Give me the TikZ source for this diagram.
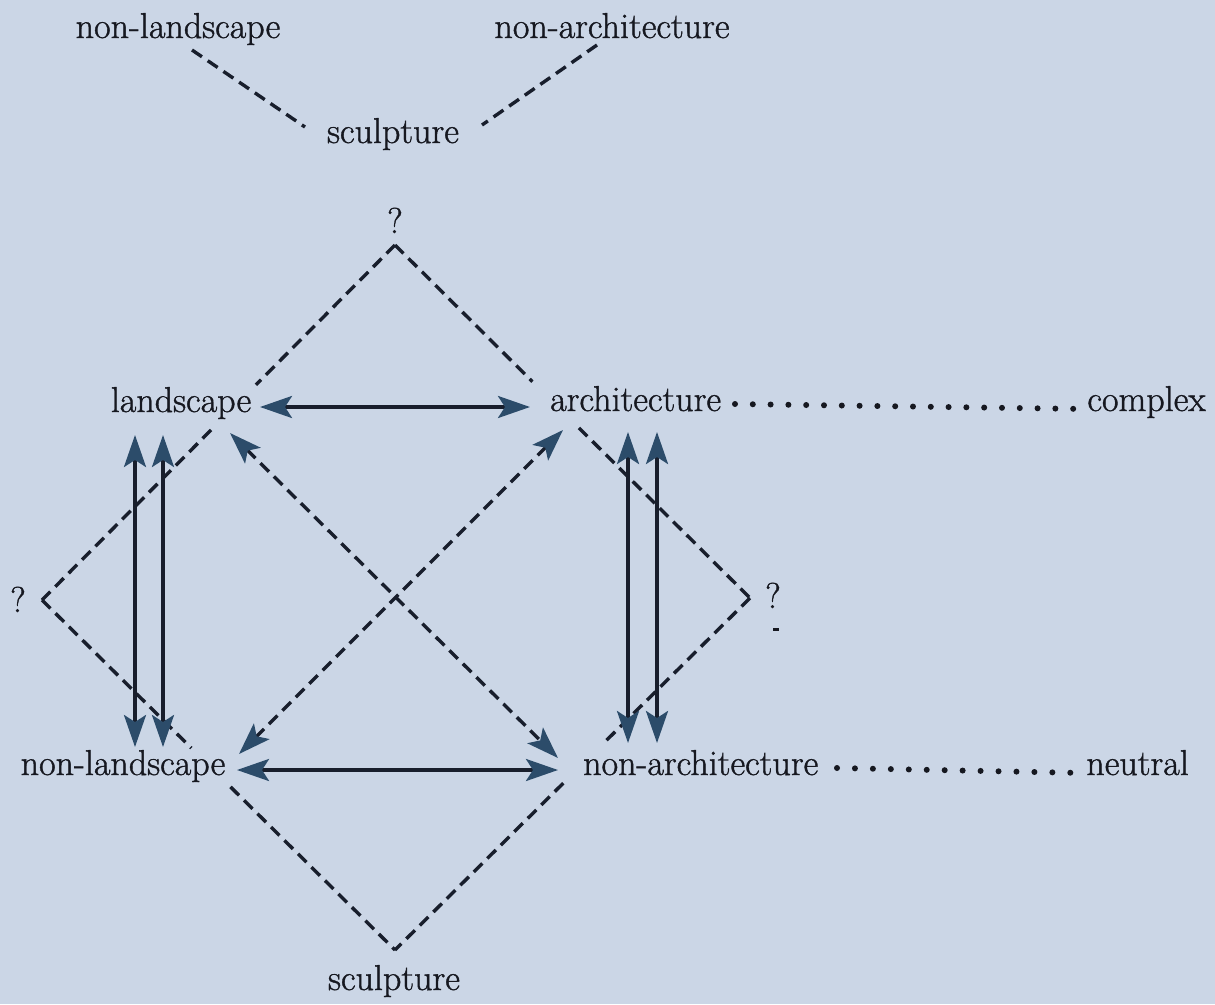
\documentclass[tikz,border=0pt]{standalone}
\usepackage{fontspec}
\setmainfont{Latin Modern Roman}[FakeBold=1.1]
\usetikzlibrary{arrows.meta,calc}
\definecolor{bgc}{RGB}{203,214,230}
\definecolor{inkc}{RGB}{22,24,32}
\definecolor{linec}{RGB}{24,30,44}
\definecolor{tipc}{RGB}{44,76,106}
\begin{document}
\begin{tikzpicture}[x=1pt,y=-1pt,
  lbl/.style={font=\fontsize{36}{42}\selectfont, text=inkc, inner sep=0pt, anchor=base},
  dashln/.style={draw=linec, line width=3.4pt, dash pattern=on 12pt off 7pt},
  tipsty/.tip={Stealth[length=32pt,width=22pt,inset=7pt,color=tipc]},
  solidarr/.style={draw=linec, line width=3.4pt, {tipsty}-{tipsty}},
  dasharr/.style={dashln, {tipsty}-{tipsty}},
  dotln/.style={draw=inkc, line width=6pt, line cap=round}
]
\useasboundingbox[fill=bgc] (0,0) rectangle (1215,1004);

% top group
\node[lbl] (tnl) at (178,38) {non-landscape};
\node[lbl] (tna) at (612,38) {non-architecture};
\node[lbl] (tsc) at (393,143) {sculpture};
\coordinate (a1) at (192,50); \coordinate (a2) at (305,127);
\coordinate (b1) at (597,45); \coordinate (b2) at (482,125);
\draw[dashln] (a1) -- (a2);
\draw[dashln] (b1) -- (b2);

% question marks
\node[lbl] (qt) at (395,233) {?};
\node[lbl] (ql) at (18,612) {?};
\node[lbl] (qr) at (773,608) {?};
\fill[inkc] (773,628) rectangle (779,631);

% main labels
\node[lbl] (land) at (181,412) {landscape};
\node[lbl, anchor=base west] (arch) at (550,411) {architecture};
\node[lbl, anchor=base east] (cplx) at (1206,411) {complex};
\node[lbl] (nland) at (123,775) {non-landscape};
\node[lbl, anchor=base west] (narch) at (583,775) {non-architecture};
\node[lbl, anchor=base east] (neut) at (1189,775) {neutral};
\node[lbl] (bsc) at (394,990) {sculpture};

% diamond apexes
\coordinate (T) at (395,245);
\coordinate (L) at (42,600);
\coordinate (B) at (395,950);
\coordinate (R) at (750,598);

\draw[dashln] (T) -- ($(T)!0.394!(L)$);
\draw[dashln] ($(T)!0.521!(L)$) -- (L);
\draw[dashln] (T) -- ($(T)!0.387!(R)$);
\draw[dashln] ($(T)!0.518!(R)$) -- (R);
\draw[dashln] (L) -- ($(L)!0.423!(B)$);
\draw[dashln] ($(L)!0.534!(B)$) -- (B);
\draw[dashln] (R) -- ($(R)!0.418!(B)$);
\draw[dashln] ($(R)!0.526!(B)$) -- (B);

% horizontal solid arrows
\coordinate (h1a) at (260,407); \coordinate (h1b) at (530,407);
\coordinate (h2a) at (237,770); \coordinate (h2b) at (558,770);
\draw[solidarr] (h1a) -- (h1b);
\draw[solidarr] (h2a) -- (h2b);

% vertical solid arrows
\coordinate (v1a) at (135,435); \coordinate (v1b) at (135,747);
\coordinate (v2a) at (163,435); \coordinate (v2b) at (163,747);
\coordinate (v3a) at (628,432); \coordinate (v3b) at (628,743);
\coordinate (v4a) at (657,432); \coordinate (v4b) at (657,743);
\draw[solidarr] (v1a) -- (v1b);
\draw[solidarr] (v2a) -- (v2b);
\draw[solidarr] (v3a) -- (v3b);
\draw[solidarr] (v4a) -- (v4b);

% dashed diagonal arrows
\coordinate (d1a) at (230,433); \coordinate (d1b) at (558,758);
\coordinate (d2a) at (563,430); \coordinate (d2b) at (239,754);
\draw[dasharr] (d1a) -- (d1b);
\draw[dasharr] (d2a) -- (d2b);

% dotted leaders
\coordinate (dA) at (735,404);
\coordinate (dB) at (837,768);
\draw[dotln, dash pattern=on 0pt off 17.8pt] (dA) -- ([xshift=-12pt]cplx.mid west);
\draw[dotln, dash pattern=on 0pt off 17.95pt] (dB) -- ([xshift=-10pt]neut.mid west);
\end{tikzpicture}
\end{document}
